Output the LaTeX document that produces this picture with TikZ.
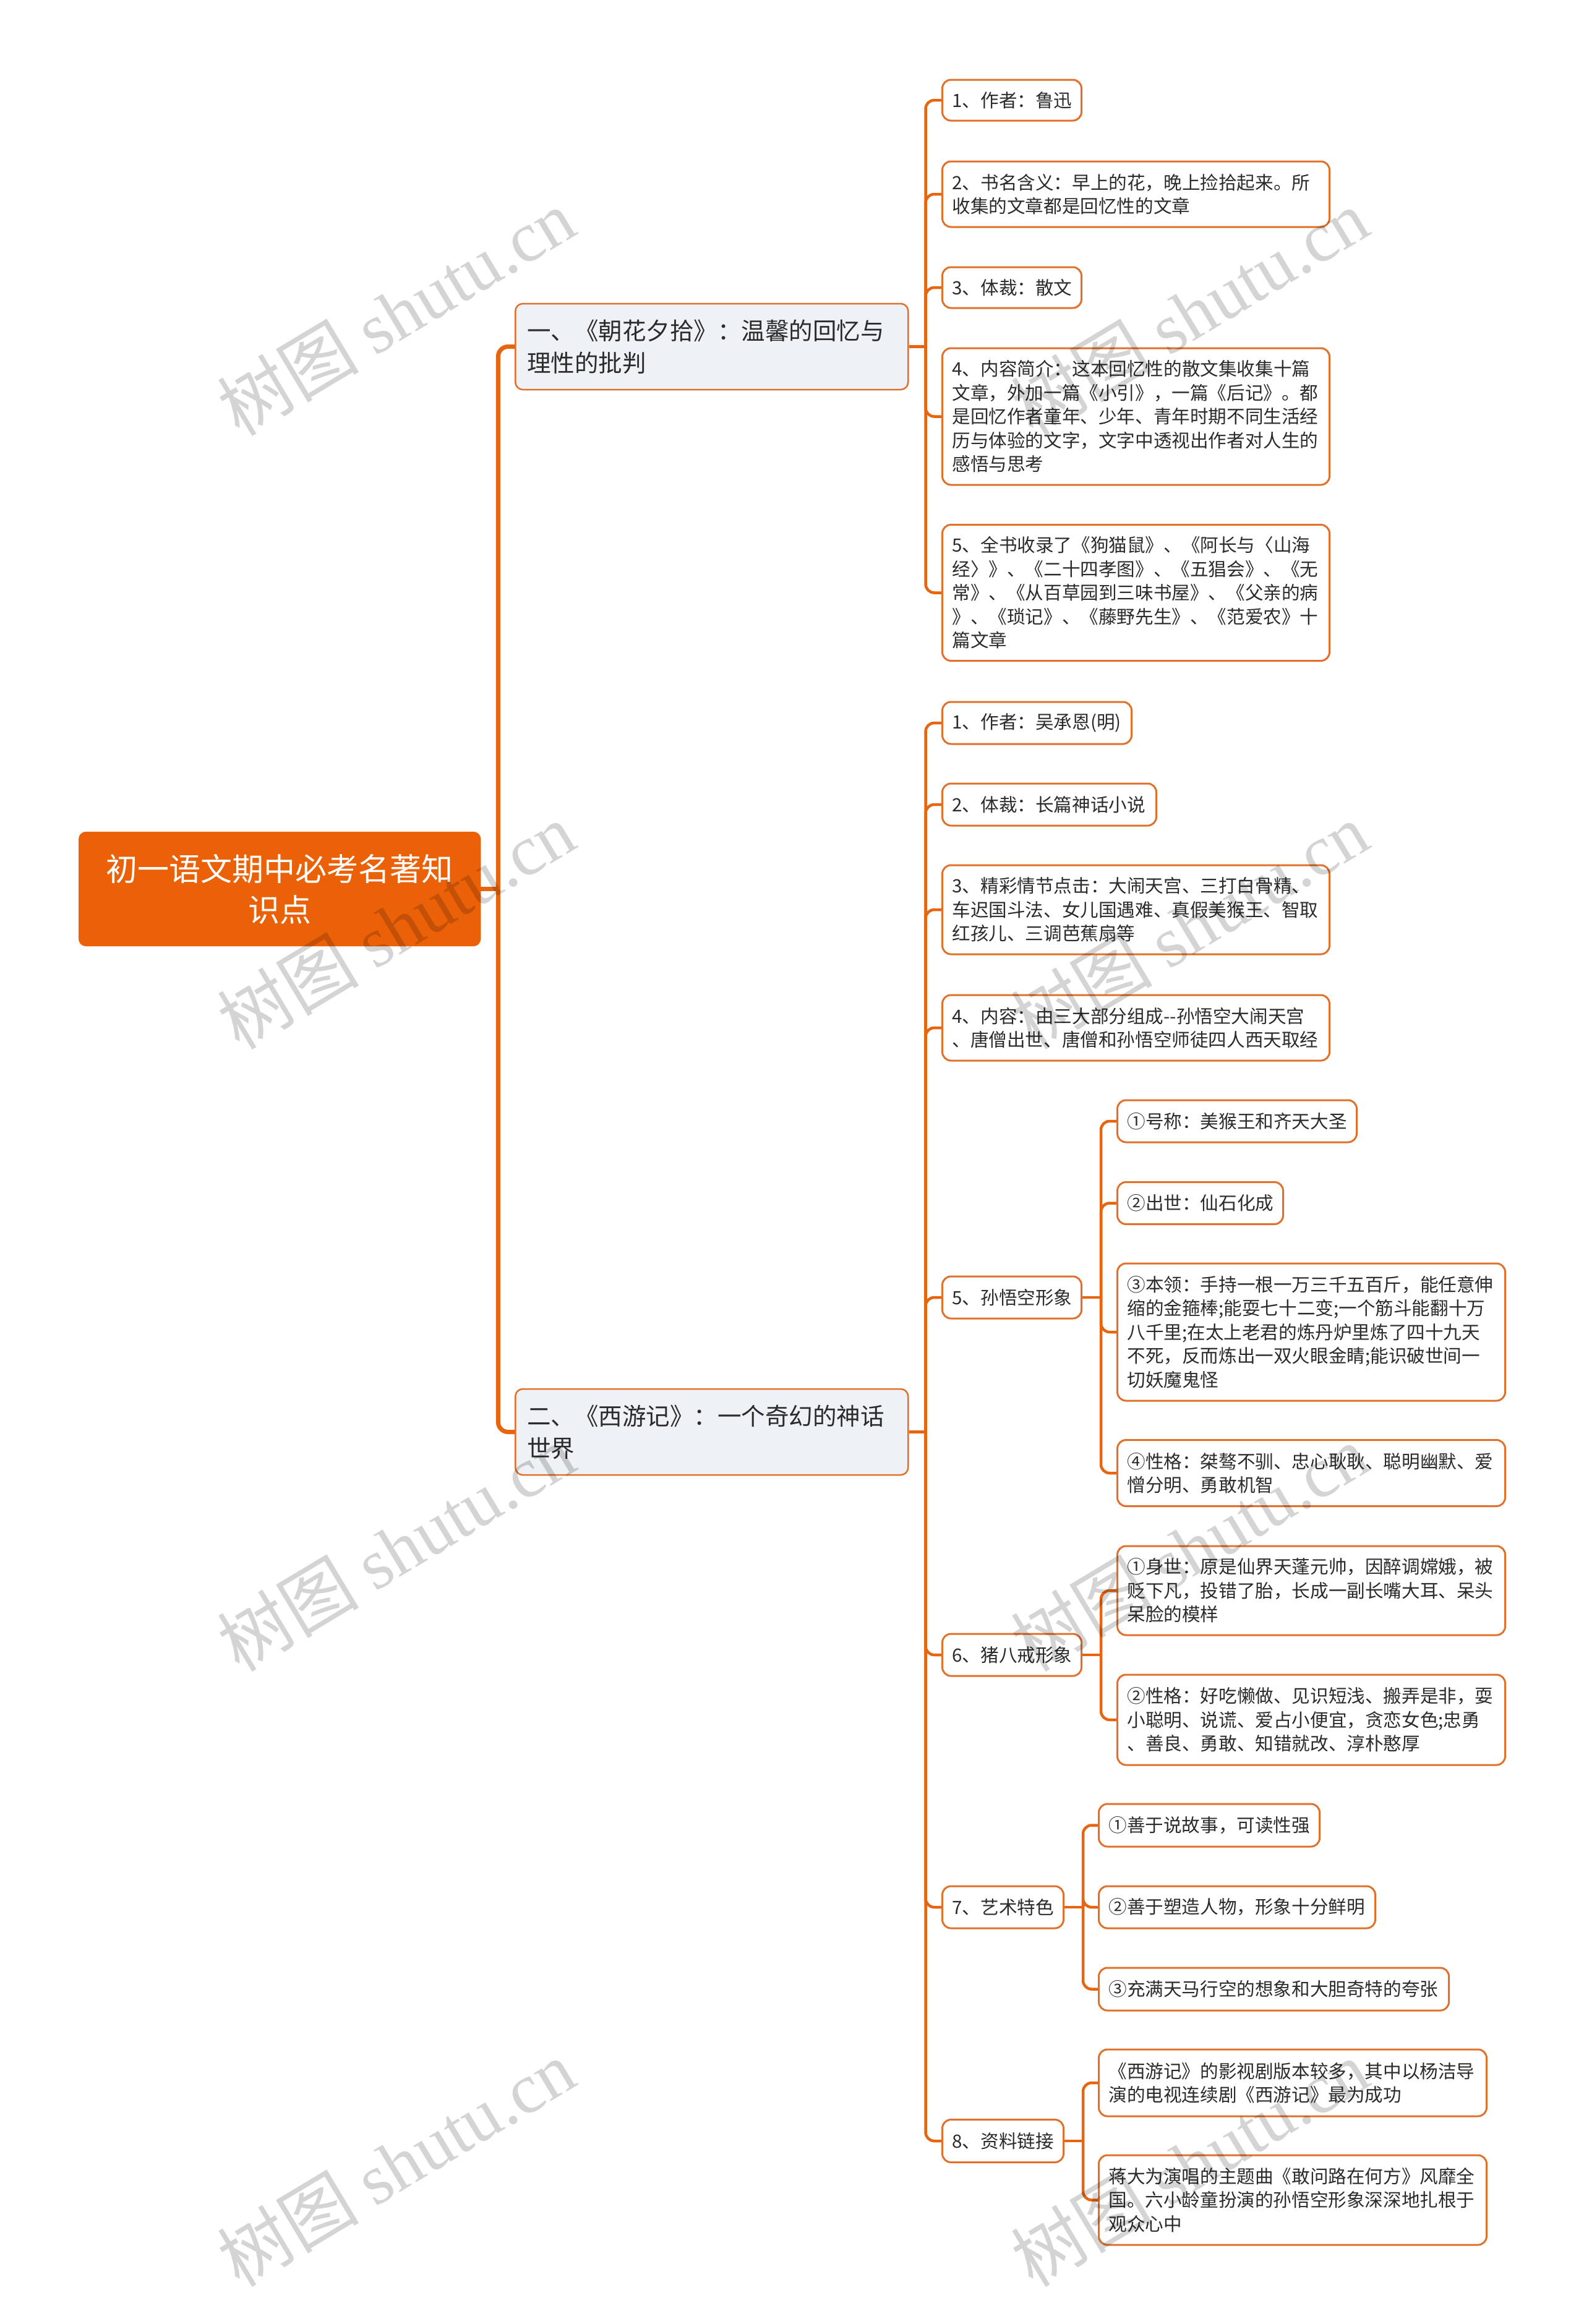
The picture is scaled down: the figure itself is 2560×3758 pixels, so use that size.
\documentclass[tikz,border=0pt]{standalone}
\usepackage{fontspec}
\setmainfont{Noto Sans CJK SC}
\newfontfamily\wmlat{Liberation Serif}
\definecolor{orng}{HTML}{EB6108}
\definecolor{lineor}{HTML}{E8650F}
\definecolor{bord}{HTML}{E0702A}
\definecolor{lvlfill}{HTML}{EEF1F5}
\definecolor{txt}{HTML}{2B2B2B}
\pgfdeclarelayer{bg}
\pgfdeclarelayer{fg}
\pgfsetlayers{bg,main,fg}
\tikzset{
 rootbox/.style={fill=orng, draw=orng, rounded corners=12pt, text=white, align=center,
   font=\fontsize{51}{66}\selectfont, inner sep=0pt, anchor=west},
 topic/.style={fill=lvlfill, draw=bord, line width=2.5pt, rounded corners=12pt, text=txt, align=left,
   font=\fontsize{38.5}{52}\selectfont, inner xsep=19pt, inner ysep=0pt, anchor=west},
 leaf/.style={fill=white, draw=bord, line width=3pt, rounded corners=14pt, text=txt, align=left,
   font=\fontsize{29.6}{38.5}\selectfont, inner xsep=16pt, inner ysep=0pt, anchor=west},
 connz/.style={draw=lineor, line width=7pt, rounded corners=16pt},
 conn/.style={draw=lineor, line width=4.5pt, rounded corners=14pt},
 wm/.style={text=black, text opacity=0.17, rotate=31, font=\fontsize{115}{115}\selectfont}
}
\begin{document}
\begin{tikzpicture}[x=1pt,y=-1pt]
\path[use as bounding box] (0,0) rectangle (2560,3758);

% root
\node[rootbox, text width=650pt, minimum height=185pt] (root) at (127,1437.5) {初一语文期中必考名著知\\识点};

% level 1
\node[topic, text width=597pt, minimum height=139pt] (A) at (832,560.5) {一、《朝花夕拾》：温馨的回忆与\\理性的批判};
\node[topic, text width=597pt, minimum height=139pt] (B) at (832,2315.5) {二、《西游记》：一个奇幻的神话\\世界};

% A children
\node[leaf, text width=193pt, minimum height=66pt] (A1) at (1522,162) {1、作者：鲁迅};
\node[leaf, text width=594pt, minimum height=106pt] (A2) at (1522,314) {2、书名含义：早上的花，晚上捡拾起来。所\\收集的文章都是回忆性的文章};
\node[leaf, text width=193pt, minimum height=66pt] (A3) at (1522,465) {3、体裁：散文};
\node[leaf, text width=594pt, minimum height=221pt] (A4) at (1522,673.5) {4、内容简介：这本回忆性的散文集收集十篇\\文章，外加一篇《小引》，一篇《后记》。都\\是回忆作者童年、少年、青年时期不同生活经\\历与体验的文字，文字中透视出作者对人生的\\感悟与思考};
\node[leaf, text width=594pt, minimum height=220pt] (A5) at (1522,958.5) {5、全书收录了《狗猫鼠》、《阿长与〈山海\\经〉》、《二十四孝图》、《五猖会》、《无\\常》、《从百草园到三味书屋》、《父亲的病\\》、《琐记》、《藤野先生》、《范爱农》十\\篇文章};

% B children
\node[leaf, text width=274pt, minimum height=68pt] (B1) at (1522,1169) {1、作者：吴承恩(明)};
\node[leaf, text width=314pt, minimum height=68pt] (B2) at (1522,1301) {2、体裁：长篇神话小说};
\node[leaf, text width=594pt, minimum height=144pt] (B3) at (1522,1471) {3、精彩情节点击：大闹天宫、三打白骨精、\\车迟国斗法、女儿国遇难、真假美猴王、智取\\红孩儿、三调芭蕉扇等};
\node[leaf, text width=594pt, minimum height=106pt] (B4) at (1522,1662) {4、内容：由三大部分组成-{}-孙悟空大闹天宫\\、唐僧出世、唐僧和孙悟空师徒四人西天取经};
\node[leaf, text width=193pt, minimum height=68pt] (B5) at (1522,2098) {5、孙悟空形象};
\node[leaf, text width=193pt, minimum height=68pt] (B6) at (1522,2676) {6、猪八戒形象};
\node[leaf, text width=164pt, minimum height=68pt] (B7) at (1522,3084) {7、艺术特色};
\node[leaf, text width=164pt, minimum height=69pt] (B8) at (1522,3462) {8、资料链接};

% B5 children
\node[leaf, text width=355pt, minimum height=68pt] (B5a) at (1805,1813) {①号称：美猴王和齐天大圣};
\node[leaf, text width=236pt, minimum height=68pt] (B5b) at (1805,1945.5) {②出世：仙石化成};
\node[leaf, text width=595pt, minimum height=222pt] (B5c) at (1805,2154) {③本领：手持一根一万三千五百斤，能任意伸\\缩的金箍棒;能耍七十二变;一个筋斗能翻十万\\八千里;在太上老君的炼丹炉里炼了四十九天\\不死，反而炼出一双火眼金睛;能识破世间一\\切妖魔鬼怪};
\node[leaf, text width=595pt, minimum height=107pt] (B5d) at (1805,2382) {④性格：桀骜不驯、忠心耿耿、聪明幽默、爱\\憎分明、勇敢机智};

% B6 children
\node[leaf, text width=595pt, minimum height=144pt] (B6a) at (1805,2572) {①身世：原是仙界天蓬元帅，因醉调嫦娥，被\\贬下凡，投错了胎，长成一副长嘴大耳、呆头\\呆脸的模样};
\node[leaf, text width=595pt, minimum height=146pt] (B6b) at (1805,2781) {②性格：好吃懒做、见识短浅、搬弄是非，耍\\小聪明、说谎、爱占小便宜，贪恋女色;忠勇\\、善良、勇敢、知错就改、淳朴憨厚};

% B7 children
\node[leaf, text width=325pt, minimum height=69pt] (B7a) at (1775,2951.5) {①善于说故事，可读性强};
\node[leaf, text width=415pt, minimum height=68pt] (B7b) at (1775,3084) {②善于塑造人物，形象十分鲜明};
\node[leaf, text width=534pt, minimum height=69pt] (B7c) at (1775,3216.5) {③充满天马行空的想象和大胆奇特的夸张};

% B8 children
\node[leaf, text width=595pt, minimum height=108pt] (B8a) at (1775,3368) {《西游记》的影视剧版本较多，其中以杨洁导\\演的电视连续剧《西游记》最为成功};
\node[leaf, text width=595pt, minimum height=145pt] (B8b) at (1775,3557.5) {蒋大为演唱的主题曲《敢问路在何方》风靡全\\国。六小龄童扮演的孙悟空形象深深地扎根于\\观众心中};

% connectors
\begin{pgfonlayer}{bg}
\draw[connz] (root.east) -- ++(28,0) coordinate (s0);
\draw[connz] (s0) |- (A.west);
\draw[connz] (s0) |- (B.west);
\draw[conn] (A.east) -- ++(27,0) coordinate (sA);
\foreach \c in {A1,A2,A3,A4,A5} \draw[conn] (sA) |- (\c.west);
\draw[conn] (B.east) -- ++(27,0) coordinate (sB);
\foreach \c in {B1,B2,B3,B4,B5,B6,B7,B8} \draw[conn] (sB) |- (\c.west);
\draw[conn] (B5.east) -- ++(30,0) coordinate (s5);
\foreach \c in {B5a,B5b,B5c,B5d} \draw[conn] (s5) |- (\c.west);
\draw[conn] (B6.east) -- ++(30,0) coordinate (s6);
\foreach \c in {B6a,B6b} \draw[conn] (s6) |- (\c.west);
\draw[conn] (B7.east) -- ++(30,0) coordinate (s7);
\foreach \c in {B7a,B7b,B7c} \draw[conn] (s7) |- (\c.west);
\draw[conn] (B8.east) -- ++(30,0) coordinate (s8);
\foreach \c in {B8a,B8b} \draw[conn] (s8) |- (\c.west);
\end{pgfonlayer}

% watermarks
\begin{pgfonlayer}{fg}
\foreach \wy [count=\i] in {505,1497,2503,3498} {
  \node[wm] (wl\i) at (640,\wy) {树图 {\wmlat shutu.cn}};
  \node[wm] (wr\i) at (1923,\wy) {树图 {\wmlat shutu.cn}};
}
\end{pgfonlayer}
\end{tikzpicture}
\end{document}
